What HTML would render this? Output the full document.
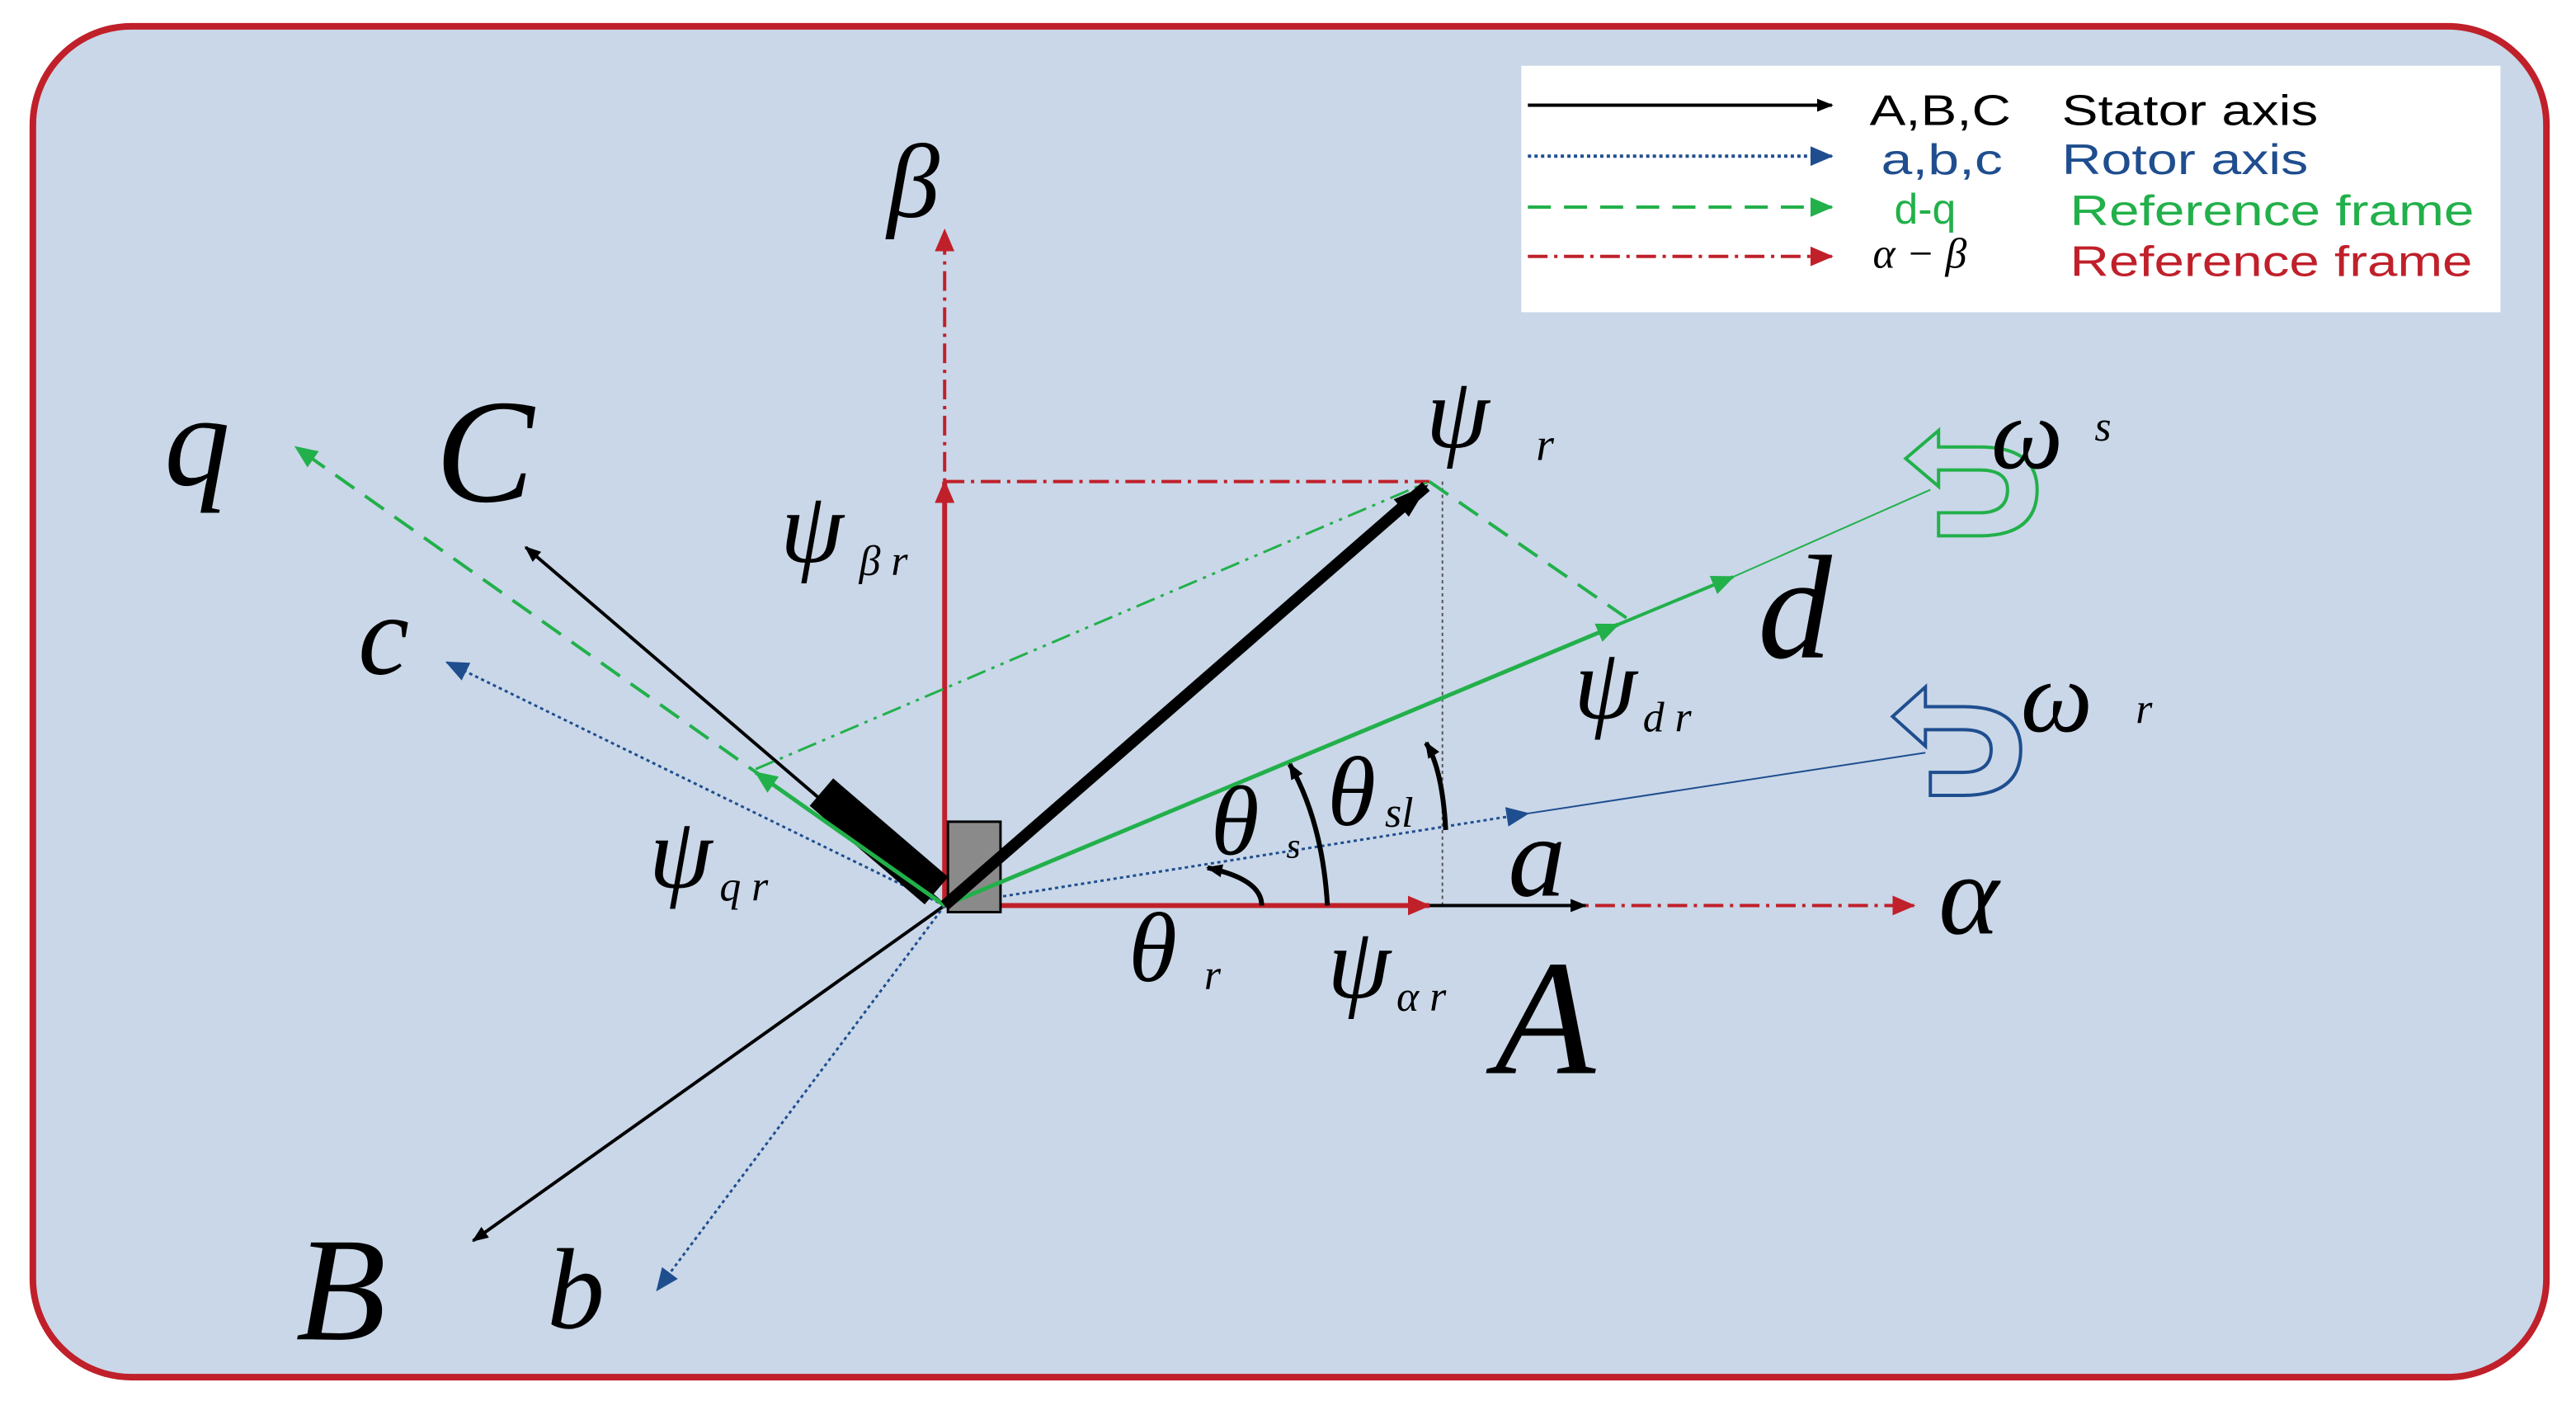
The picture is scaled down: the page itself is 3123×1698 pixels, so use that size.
<!DOCTYPE html>
<html><head><meta charset="utf-8"><style>
html,body{margin:0;padding:0;background:#fff;}
svg{display:block;}
.s{font-family:"Liberation Serif",serif;font-style:italic;fill:#000;}
.l{font-family:"Liberation Sans",sans-serif;font-size:26px;}
</style></head><body>
<svg width="3123" height="1698" viewBox="0 0 1568 852.5" preserveAspectRatio="none" xmlns="http://www.w3.org/2000/svg">
<defs>
<marker id="ak" markerWidth="10" markerHeight="8" refX="9" refY="4" orient="auto" markerUnits="userSpaceOnUse"><path d="M0,0 L10,4 L0,8 z" fill="#000"/></marker>
<marker id="akb" markerWidth="22" markerHeight="14" refX="20" refY="7" orient="auto" markerUnits="userSpaceOnUse"><path d="M0,0 L22,7 L0,14 z" fill="#000"/></marker>
<marker id="ar" markerWidth="14" markerHeight="12" refX="13" refY="6" orient="auto" markerUnits="userSpaceOnUse"><path d="M0,0 L14,6 L0,12 z" fill="#c0202a"/></marker>
<marker id="ag" markerWidth="14" markerHeight="12" refX="13" refY="6" orient="auto" markerUnits="userSpaceOnUse"><path d="M0,0 L14,6 L0,12 z" fill="#22b04a"/></marker>
<marker id="ab" markerWidth="14" markerHeight="12" refX="13" refY="6" orient="auto" markerUnits="userSpaceOnUse"><path d="M0,0 L14,6 L0,12 z" fill="#1f4e8f"/></marker>
</defs>
<rect x="20" y="16" width="1530" height="822" rx="60" fill="#c9d7e8" stroke="#c0202a" stroke-width="4"/>
<!-- legend -->
<rect x="926" y="40" width="596" height="150" fill="#fff"/>
<line x1="930" y1="64" x2="1115" y2="64" stroke="#000" stroke-width="2" marker-end="url(#ak)"/>
<line x1="930" y1="95" x2="1115" y2="95" stroke="#1f4e8f" stroke-width="2" stroke-dasharray="2,2" marker-end="url(#ab)"/>
<line x1="930" y1="126" x2="1115" y2="126" stroke="#22b04a" stroke-width="2" stroke-dasharray="14,8" marker-end="url(#ag)"/>
<line x1="930" y1="156" x2="1115" y2="156" stroke="#c0202a" stroke-width="2" stroke-dasharray="12,4,2,4" marker-end="url(#ar)"/>
<text class="l" x="1138" y="76" textLength="86" lengthAdjust="spacingAndGlyphs">A,B,C</text><text class="l" x="1255" y="76" textLength="156" lengthAdjust="spacingAndGlyphs">Stator axis</text>
<text class="l" x="1145" y="106" fill="#1f4e8f" textLength="74" lengthAdjust="spacingAndGlyphs">a,b,c</text><text class="l" x="1255" y="106" fill="#1f4e8f" textLength="150" lengthAdjust="spacingAndGlyphs">Rotor axis</text>
<text class="l" x="1153" y="136" fill="#22b04a">d-q</text><text class="l" x="1260" y="137" fill="#22b04a" textLength="246" lengthAdjust="spacingAndGlyphs">Reference frame</text>
<text class="s" x="1140" y="163" font-size="26">α − β</text><text class="l" x="1260" y="168" fill="#c0202a" textLength="245" lengthAdjust="spacingAndGlyphs">Reference frame</text>
<!-- axes -->
<line x1="575" y1="551" x2="1165" y2="551" stroke="#c0202a" stroke-width="2" stroke-dasharray="12,4,2,4" marker-end="url(#ar)"/>
<line x1="575" y1="551" x2="575" y2="140" stroke="#c0202a" stroke-width="2" stroke-dasharray="12,4,2,4" marker-end="url(#ar)"/>
<line x1="575" y1="293" x2="870" y2="293" stroke="#c0202a" stroke-width="2" stroke-dasharray="12,4,2,4"/>
<line x1="878" y1="293" x2="878" y2="551" stroke="#555" stroke-width="1" stroke-dasharray="2,2"/>
<line x1="870" y1="551" x2="965" y2="551" stroke="#000" stroke-width="2" marker-end="url(#ak)"/>
<line x1="575" y1="551" x2="870" y2="551" stroke="#c0202a" stroke-width="3" marker-end="url(#ar)"/>
<line x1="575" y1="551" x2="575" y2="293" stroke="#c0202a" stroke-width="3" marker-end="url(#ar)"/>
<!-- stator / rotor -->
<line x1="575" y1="551" x2="320" y2="333" stroke="#000" stroke-width="2" marker-end="url(#ak)"/>
<line x1="575" y1="551" x2="288" y2="755" stroke="#000" stroke-width="2" marker-end="url(#ak)"/>
<line x1="575" y1="551" x2="272" y2="403" stroke="#1f4e8f" stroke-width="1.5" stroke-dasharray="2,2" marker-end="url(#ab)"/>
<line x1="575" y1="551" x2="400" y2="785" stroke="#1f4e8f" stroke-width="1.5" stroke-dasharray="2,2" marker-end="url(#ab)"/>
<line x1="575" y1="551" x2="930" y2="495" stroke="#1f4e8f" stroke-width="1.5" stroke-dasharray="2,2" marker-end="url(#ab)"/>
<line x1="930" y1="495" x2="1172" y2="458" stroke="#1f4e8f" stroke-width="1"/>
<line x1="500" y1="482" x2="570" y2="542" stroke="#000" stroke-width="22"/>
<rect x="577" y="500" width="32" height="55" fill="#8a8a8a" stroke="#000" stroke-width="1.5"/>
<!-- dq -->
<line x1="575" y1="551" x2="180" y2="272" stroke="#22b04a" stroke-width="2" stroke-dasharray="14,8" marker-end="url(#ag)"/>
<line x1="575" y1="551" x2="460" y2="470" stroke="#22b04a" stroke-width="2.5" marker-end="url(#ag)"/>
<line x1="460" y1="468" x2="870" y2="293" stroke="#22b04a" stroke-width="1.5" stroke-dasharray="12,4,2,4,2,4"/>
<line x1="870" y1="293" x2="990" y2="376" stroke="#22b04a" stroke-width="2" stroke-dasharray="14,8"/>
<line x1="575" y1="551" x2="985" y2="380" stroke="#22b04a" stroke-width="2.5" marker-end="url(#ag)"/>
<line x1="985" y1="380" x2="1055" y2="351" stroke="#22b04a" stroke-width="2" marker-end="url(#ag)"/>
<line x1="1055" y1="351" x2="1175" y2="298" stroke="#22b04a" stroke-width="1"/>
<line x1="575" y1="551" x2="868" y2="296" stroke="#000" stroke-width="7" marker-end="url(#akb)"/>
<!-- arcs -->
<path d="M768,551 Q768,535 735,528" fill="none" stroke="#000" stroke-width="3" marker-end="url(#ak)"/>
<path d="M808,551 Q805,500 785,465" fill="none" stroke="#000" stroke-width="3" marker-end="url(#ak)"/>
<path d="M880,505 Q878,468 868,452" fill="none" stroke="#000" stroke-width="3" marker-end="url(#ak)"/>
<!-- omega arrows -->
<path d="M1180,262 L1180,272 L1205,272 Q1240,272 1240,298 Q1240,326 1205,326 L1180,326 L1180,312 L1205,312 Q1222,312 1222,298 Q1222,286 1205,286 L1180,286 L1180,296 L1160,279 z" fill="none" stroke="#22b04a" stroke-width="2"/>
<path d="M1172,418 L1172,430 L1195,430 Q1230,430 1230,456 Q1230,484 1195,484 L1175,484 L1175,470 L1195,470 Q1212,470 1212,456 Q1212,444 1195,444 L1172,444 L1172,454 L1152,436 z" fill="none" stroke="#1f4e8f" stroke-width="2"/>
<!-- labels -->
<text class="s" x="540" y="132" font-size="64">β</text>
<text class="s" x="100" y="295" font-size="80">q</text>
<text class="s" x="265" y="305" font-size="90">C</text>
<text class="s" x="218" y="410" font-size="70">c</text>
<text class="s" x="1070" y="400" font-size="90">d</text>
<text class="s" x="1180" y="568" font-size="70">α</text>
<text class="s" x="918" y="545" font-size="70">a</text>
<text class="s" x="910" y="653" font-size="100">A</text>
<text class="s" x="180" y="815" font-size="90">B</text>
<text class="s" x="333" y="808" font-size="70">b</text>
<text class="s" x="868" y="272" font-size="62">ψ</text><text class="s" x="935" y="280" font-size="28">r</text>
<text class="s" x="475" y="342" font-size="62">ψ</text><text class="s" x="523" y="350" font-size="26">β r</text>
<text class="s" x="958" y="437" font-size="62">ψ</text><text class="s" x="1000" y="445" font-size="26">d r</text>
<text class="s" x="395" y="540" font-size="62">ψ</text><text class="s" x="438" y="548" font-size="26">q r</text>
<text class="s" x="808" y="607" font-size="62">ψ</text><text class="s" x="850" y="615" font-size="26">α r</text>
<text class="s" x="687" y="597" font-size="60">θ</text><text class="s" x="733" y="602" font-size="26">r</text>
<text class="s" x="737" y="520" font-size="60">θ</text><text class="s" x="783" y="522" font-size="22">s</text>
<text class="s" x="808" y="502" font-size="60">θ</text><text class="s" x="843" y="503" font-size="26">sl</text>
<text class="s" x="1212" y="285" font-size="62">ω</text><text class="s" x="1275" y="268" font-size="26">s</text>
<text class="s" x="1230" y="445" font-size="62">ω</text><text class="s" x="1300" y="440" font-size="26">r</text>
</svg>
</body></html>
